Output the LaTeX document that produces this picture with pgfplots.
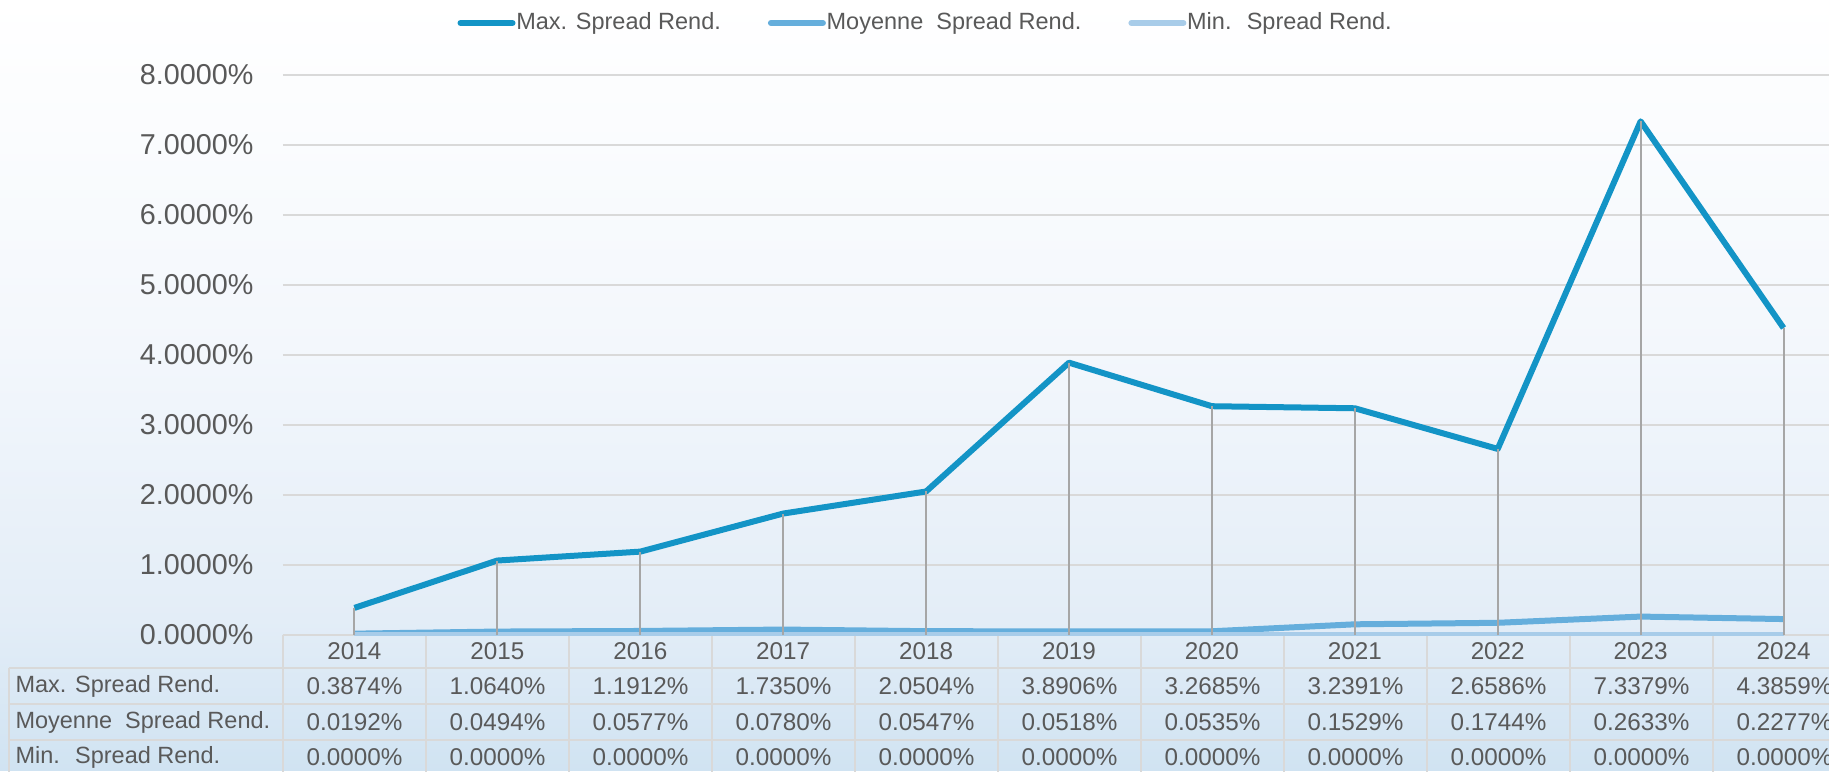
\documentclass[border=0pt]{standalone}
\usepackage{pgfplots}
\usepackage{pgfplotstable}
\pgfplotsset{compat=1.18}
\usepackage{fontspec}
\setmainfont{Liberation Sans}
\definecolor{maxc}{HTML}{1394C6}
\definecolor{moyc}{HTML}{65AEDC}
\definecolor{minc}{HTML}{A8CCE9}
\definecolor{dropc}{HTML}{A6A6A6}
\definecolor{gridc}{HTML}{D9D9D9}
\definecolor{txtc}{HTML}{595959}
\definecolor{bg0}{HTML}{FFFFFF}
\definecolor{bg1}{HTML}{F3F7FC}
\definecolor{bg2}{HTML}{E3EDF7}
\definecolor{bg3}{HTML}{D0E3F2}
\newcommand\tfont{\fontsize{9.4pt}{11pt}\selectfont}
\newcommand\nfont{\fontsize{9.7pt}{11pt}\selectfont}
\newcommand\yfont{\fontsize{11.5pt}{13pt}\selectfont}

\pgfplotstableread{
x max moy min
0 0.3874 0.0192 0
1 1.0640 0.0494 0
2 1.1912 0.0577 0
3 1.7350 0.0780 0
4 2.0504 0.0547 0
5 3.8906 0.0518 0
6 3.2685 0.0535 0
7 3.2391 0.1529 0
8 2.6586 0.1744 0
9 7.3379 0.2633 0
10 4.3859 0.2277 0
}\datatable

\begin{document}
\begin{tikzpicture}
\useasboundingbox (0pt,0pt) rectangle (731.6pt,-308.4pt);
\clip (0pt,0pt) rectangle (731.6pt,-308.4pt);
\begin{scope}[x=0.4pt,y=-0.4pt]
\shade[top color=bg0, bottom color=bg1] (0,0) rectangle (1829,350.5);
\shade[top color=bg1, bottom color=bg2] (0,350) rectangle (1829,620.5);
\shade[top color=bg2, bottom color=bg3] (0,620) rectangle (1829,771);
\tikzset{tl/.style={draw=gridc, line width=0.8pt},
  num/.style={font=\nfont, text=txtc, inner sep=0pt, anchor=center},
  lbl/.style={font=\tfont, text=txtc, inner sep=0pt, anchor=west}}
\draw[tl] (283,635) -- (1829,635);
\foreach \yy in {668,704,740} \draw[tl] (9,\yy) -- (1829,\yy);
\draw[tl] (9,668) -- (9,780);
\foreach \k in {0,...,11} \draw[tl] (283+143*\k,635) -- (283+143*\k,780);
\node[lbl] at (15,686) {Max. Spread Rend.};
\node[lbl] at (15,722) {Moyenne~ Spread Rend.};
\node[lbl] at (15,757) {Min.~ Spread Rend.};
\foreach \v [count=\i from 0] in {0.3874,1.0640,1.1912,1.7350,2.0504,3.8906,3.2685,3.2391,2.6586,7.3379,4.3859}
  \node[num] at (354.5+143*\i,686) {\v\%};
\foreach \v [count=\i from 0] in {0.0192,0.0494,0.0577,0.0780,0.0547,0.0518,0.0535,0.1529,0.1744,0.2633,0.2277}
  \node[num] at (354.5+143*\i,722) {\v\%};
\foreach \v [count=\i from 0] in {0.0000,0.0000,0.0000,0.0000,0.0000,0.0000,0.0000,0.0000,0.0000,0.0000,0.0000}
  \node[num] at (354.5+143*\i,757) {\v\%};
\end{scope}
\begin{axis}[
  at={(113.2pt,-254pt)}, anchor=south west,
  scale only axis, width=628.8pt, height=224pt,
  xmin=-0.5, xmax=10.5, ymin=0, ymax=8,
  axis line style={draw=none},
  major tick length=0pt,
  xtick={0,...,10},
  xticklabels={2014,2015,2016,2017,2018,2019,2020,2021,2022,2023,2024},
  xticklabel style={font=\nfont, text=txtc, anchor=center, inner sep=0pt, yshift=-6.6pt},
  ytick={0,...,8},
  yticklabels={0.0000\%,1.0000\%,2.0000\%,3.0000\%,4.0000\%,5.0000\%,6.0000\%,7.0000\%,8.0000\%},
  yticklabel style={font=\yfont, text=txtc, anchor=east, inner sep=0pt},
  yticklabel shift=11.6pt,
  ymajorgrids, major grid style={draw=gridc, line width=0.5pt},
  legend columns=3,
  legend style={at={(0.1107,1.0929)}, anchor=west, draw=none, fill=none, inner sep=0pt,
    font=\tfont, text=txtc, nodes={inner sep=0.3pt},
    /tikz/every even column/.append style={column sep=18.5pt}},
  legend image code/.code={\draw[#1, line cap=round] (0pt,0pt) -- (20.8pt,0pt);},
]
\addplot[maxc, line width=2.4pt, line join=round, mark=none] table[x=x, y=max] {\datatable};
\addlegendentry{Max. Spread Rend.}
\addplot[moyc, line width=2.4pt, line join=round, mark=none] table[x=x, y=moy] {\datatable};
\addlegendentry{Moyenne~ Spread Rend.}
\addplot[minc, line width=2.4pt, line join=round, mark=none] table[x=x, y=min] {\datatable};
\addlegendentry{Min.~ Spread Rend.}
\addplot[ycomb, dropc, line width=0.8pt, mark=none, forget plot] table[x=x, y=max] {\datatable};
\end{axis}
\end{tikzpicture}
\end{document}
